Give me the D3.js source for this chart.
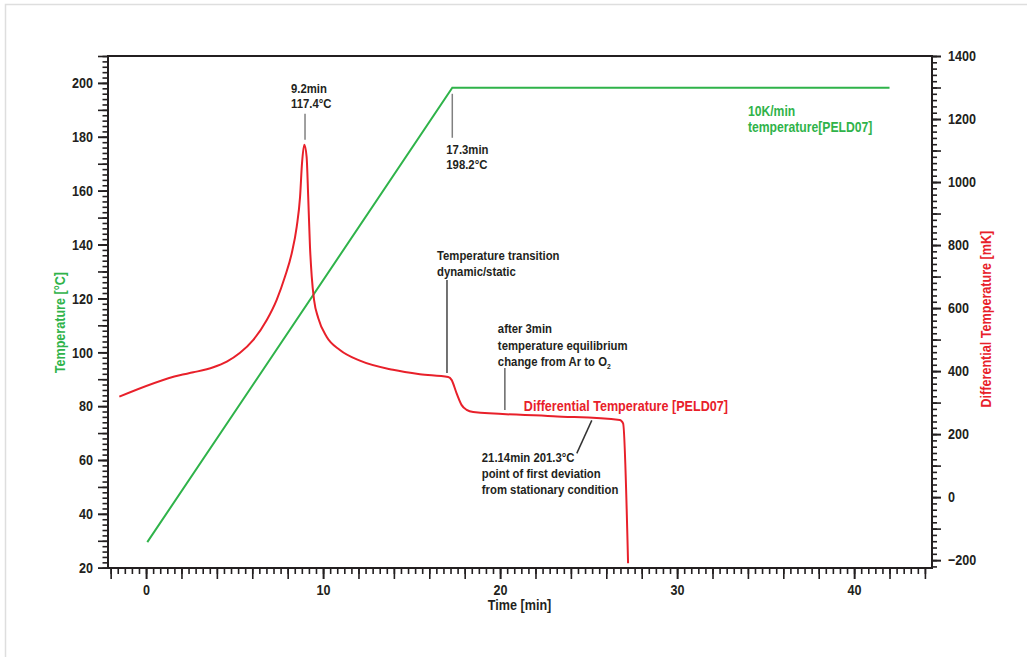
<!DOCTYPE html>
<meta charset="utf-8">
<script src="https://d3js.org/d3.v7.min.js"></script>
<style>
  body { margin: 0; background: #fff; }
  svg text { font-family: "Liberation Sans", Arial, sans-serif; font-weight: bold; }
</style>
<div id="my_dataviz"></div>
<script>

// ---- data ----
// temperature programme (left axis, °C)
var tempTime  = [0.07, 17.3, 42.0];
var tempValue = [29.5, 198.2, 198.2];

// differential temperature (right axis, mK)
var diffTime = [-1.51, 1.9, 2.67, 3.8, 4.56, 5.31, 6.06, 6.82, 7.38, 7.85, 8.23, 8.51, 8.70, 8.81, 8.94,
                9.07, 9.16, 9.26, 9.36, 9.49, 9.73, 10.20, 10.95, 12.08, 13.95, 15.47, 17.07, 17.26,
                17.54, 17.83, 18.11, 18.48, 23.0, 26.76, 26.95, 27.23];
var diffValue = [319, 387, 396, 412, 430, 458, 499, 562, 626, 700, 774, 858, 953, 1059, 1118,
                 1080, 953, 795, 700, 626, 568, 509, 467, 433, 404, 390, 381, 372,
                 330, 292, 277, 270, 257, 245, 234, -210];

var xTicks  = [0, 10, 20, 30, 40];
var yTicks  = [20, 40, 60, 80, 100, 120, 140, 160, 180, 200];
var y2Ticks = [-200, 0, 200, 400, 600, 800, 1000, 1200, 1400];

var green = "#2fb34a", red = "#e8202a", ink = "#231f20";
var narrow = 0.84;   // no condensed font installed: squeeze Liberation Sans Bold

// ---- layout ----
var margin = {top: 56, right: 95, bottom: 89, left: 108},
    width = 1027 - margin.left - margin.right,
    height = 657 - margin.top - margin.bottom;

var root = d3.select("#my_dataviz")
  .append("svg")
    .attr("width", 1027)
    .attr("height", 657);

// faint page frame
root.append("path")
  .attr("d", "M5.5,657V4.5H1027")
  .attr("fill", "none")
  .attr("stroke", "#dedede")
  .attr("stroke-width", 1.5);

var svg = root.append("g")
  .attr("transform", "translate(" + margin.left + "," + margin.top + ")");

var x = d3.scaleLinear().domain([-2.15, 44.4]).range([0, width]);
var y = d3.scaleLinear().domain([19.9, 210]).range([height, 0]);
var y2 = d3.scaleLinear().domain([-225, 1400]).range([height, 0]);

// move x/y into a transform so the glyphs can be narrowed
function squeeze(sel) {
  sel.each(function() {
    var t = d3.select(this);
    var tx = +t.attr("x") || 0, ty = +t.attr("y") || 0;
    t.attr("x", 0).attr("y", 0)
     .attr("transform", "translate(" + tx + "," + ty + ") scale(" + narrow + ",1)");
  });
}

function styleAxis(g) {
  g.select(".domain").remove();
  g.selectAll(".tick line").attr("stroke", ink).attr("stroke-width", 1.6);
  g.selectAll(".tick text").attr("fill", ink).style("font-size", "15px").call(squeeze);
}

// X axis: minor every 0.4, longer every 2, labels every 10
svg.append("g")
  .attr("transform", "translate(0," + height + ")")
  .call(d3.axisBottom(x).tickValues(d3.range(-2, 44.3, 0.4)).tickSize(6).tickFormat(""))
  .call(styleAxis);
svg.append("g")
  .attr("transform", "translate(0," + height + ")")
  .call(d3.axisBottom(x).tickValues(d3.range(-2, 44.3, 2)).tickSize(11).tickFormat(""))
  .call(styleAxis);
svg.append("g")
  .attr("transform", "translate(0," + height + ")")
  .call(d3.axisBottom(x).tickValues(xTicks).tickSize(11).tickPadding(5).tickFormat(d3.format("d")))
  .call(styleAxis);

// left Y axis: minor every 2, longer every 10
svg.append("g")
  .call(d3.axisLeft(y).tickValues(d3.range(20, 210.1, 2)).tickSize(5.5).tickFormat(""))
  .call(styleAxis);
svg.append("g")
  .call(d3.axisLeft(y).tickValues(d3.range(20, 210.1, 10)).tickSize(10).tickFormat(""))
  .call(styleAxis);
svg.append("g")
  .call(d3.axisLeft(y).tickValues(yTicks).tickSize(10).tickPadding(5).tickFormat(d3.format("d")))
  .call(styleAxis);

// right Y axis: minor every 20, longer every 100
svg.append("g")
  .attr("transform", "translate(" + width + ",0)")
  .call(d3.axisRight(y2).tickValues(d3.range(-220, 1400.1, 20)).tickSize(5).tickFormat(""))
  .call(styleAxis);
svg.append("g")
  .attr("transform", "translate(" + width + ",0)")
  .call(d3.axisRight(y2).tickValues(d3.range(-200, 1400.1, 100)).tickSize(9).tickFormat(""))
  .call(styleAxis);
svg.append("g")
  .attr("transform", "translate(" + width + ",0)")
  .call(d3.axisRight(y2).tickValues(y2Ticks).tickSize(9).tickPadding(7).tickFormat(d3.format("d")))
  .call(styleAxis);

// plot frame
svg.append("rect")
  .attr("width", width)
  .attr("height", height)
  .attr("fill", "none")
  .attr("stroke", ink)
  .attr("stroke-width", 2);

// axis titles
svg.append("text")
  .attr("x", x(21.1))
  .attr("y", height + 42)
  .attr("text-anchor", "middle")
  .attr("fill", ink)
  .style("font-size", "15px")
  .text("Time [min]")
  .call(squeeze);

svg.append("text")
  .attr("transform", "translate(" + (-43) + "," + y(111) + ") rotate(-90) scale(" + narrow + ",1)")
  .attr("text-anchor", "middle")
  .attr("fill", green)
  .style("font-size", "15px")
  .text("Temperature [°C]");

svg.append("text")
  .attr("transform", "translate(" + (width + 59) + "," + y2(565) + ") rotate(-90) scale(" + narrow + ",1)")
  .attr("text-anchor", "middle")
  .attr("fill", red)
  .style("font-size", "15px")
  .text("Differential Temperature [mK]");

// ---- curves ----
var tempLine = d3.line()
  .x(function(d) { return x(d[0]); })
  .y(function(d) { return y(d[1]); });

svg.append("path")
  .datum(d3.zip(tempTime, tempValue))
  .attr("fill", "none")
  .attr("stroke", green)
  .attr("stroke-width", 2)
  .attr("d", tempLine);

var diffLine = d3.line()
  .curve(d3.curveMonotoneX)
  .x(function(d) { return x(d[0]); })
  .y(function(d) { return y2(d[1]); });

svg.append("path")
  .datum(d3.zip(diffTime, diffValue))
  .attr("fill", "none")
  .attr("stroke", red)
  .attr("stroke-width", 2)
  .attr("d", diffLine);

// ---- annotations ----
function note(px, py, lines, color, size, step) {
  var t = svg.append("text")
    .attr("transform", "translate(" + px + "," + py + ") scale(" + narrow + ",1)")
    .attr("fill", color)
    .style("font-size", size + "px");
  lines.forEach(function(l, i) {
    t.append("tspan").attr("x", 0).attr("dy", i ? step : 0).text(l);
  });
  return t;
}
function leader(x1, y1, x2, y2_, color) {
  svg.append("line")
    .attr("x1", x1).attr("y1", y1).attr("x2", x2).attr("y2", y2_)
    .attr("stroke", color).attr("stroke-width", 1.5);
}

// peak
var px = x(8.98), py = y2(1118);
leader(px, py - 31, px, py - 5, "#808080");
note(px - 14, py - 52, ["9.2min", "117.4°C"], ink, 13.5, 15);

// end of ramp
px = x(17.3); py = y(198.2);
leader(px, py + 6, px, py + 50, "#808080");
note(px - 6, py + 66.5, ["17.3min", "198.2°C"], ink, 13.5, 15);

// dynamic/static
px = x(17.0); py = y2(381);
leader(px, py - 97, px, py - 4, "#444");
note(px - 10, py - 117.5, ["Temperature transition", "dynamic/static"], ink, 13.5, 16);

// gas change
px = x(20.27); py = y2(262);
leader(px, py - 46.5, px, py - 4.5, "#666");
var gas = note(px - 7, py - 81.5, ["after 3min", "temperature equilibrium", "change from Ar to O"], ink, 13.5, 16.5);
gas.append("tspan").attr("dy", 3).style("font-size", "8px").text("2");

// series label
note(px + 19, py - 4, ["Differential Temperature [PELD07]"], red, 15, 0);

// first deviation
px = x(25.18); py = y2(250);
leader(px, py + 2, px - 15, py + 35, "#333");
note(px - 110, py + 43.5, ["21.14min 201.3°C", "point of first deviation", "from stationary condition"], ink, 13.5, 16);

// green label
px = x(34); py = y(198.2);
note(px, py + 28.6, ["10K/min", "temperature[PELD07]"], green, 14.5, 15.5);

</script>
